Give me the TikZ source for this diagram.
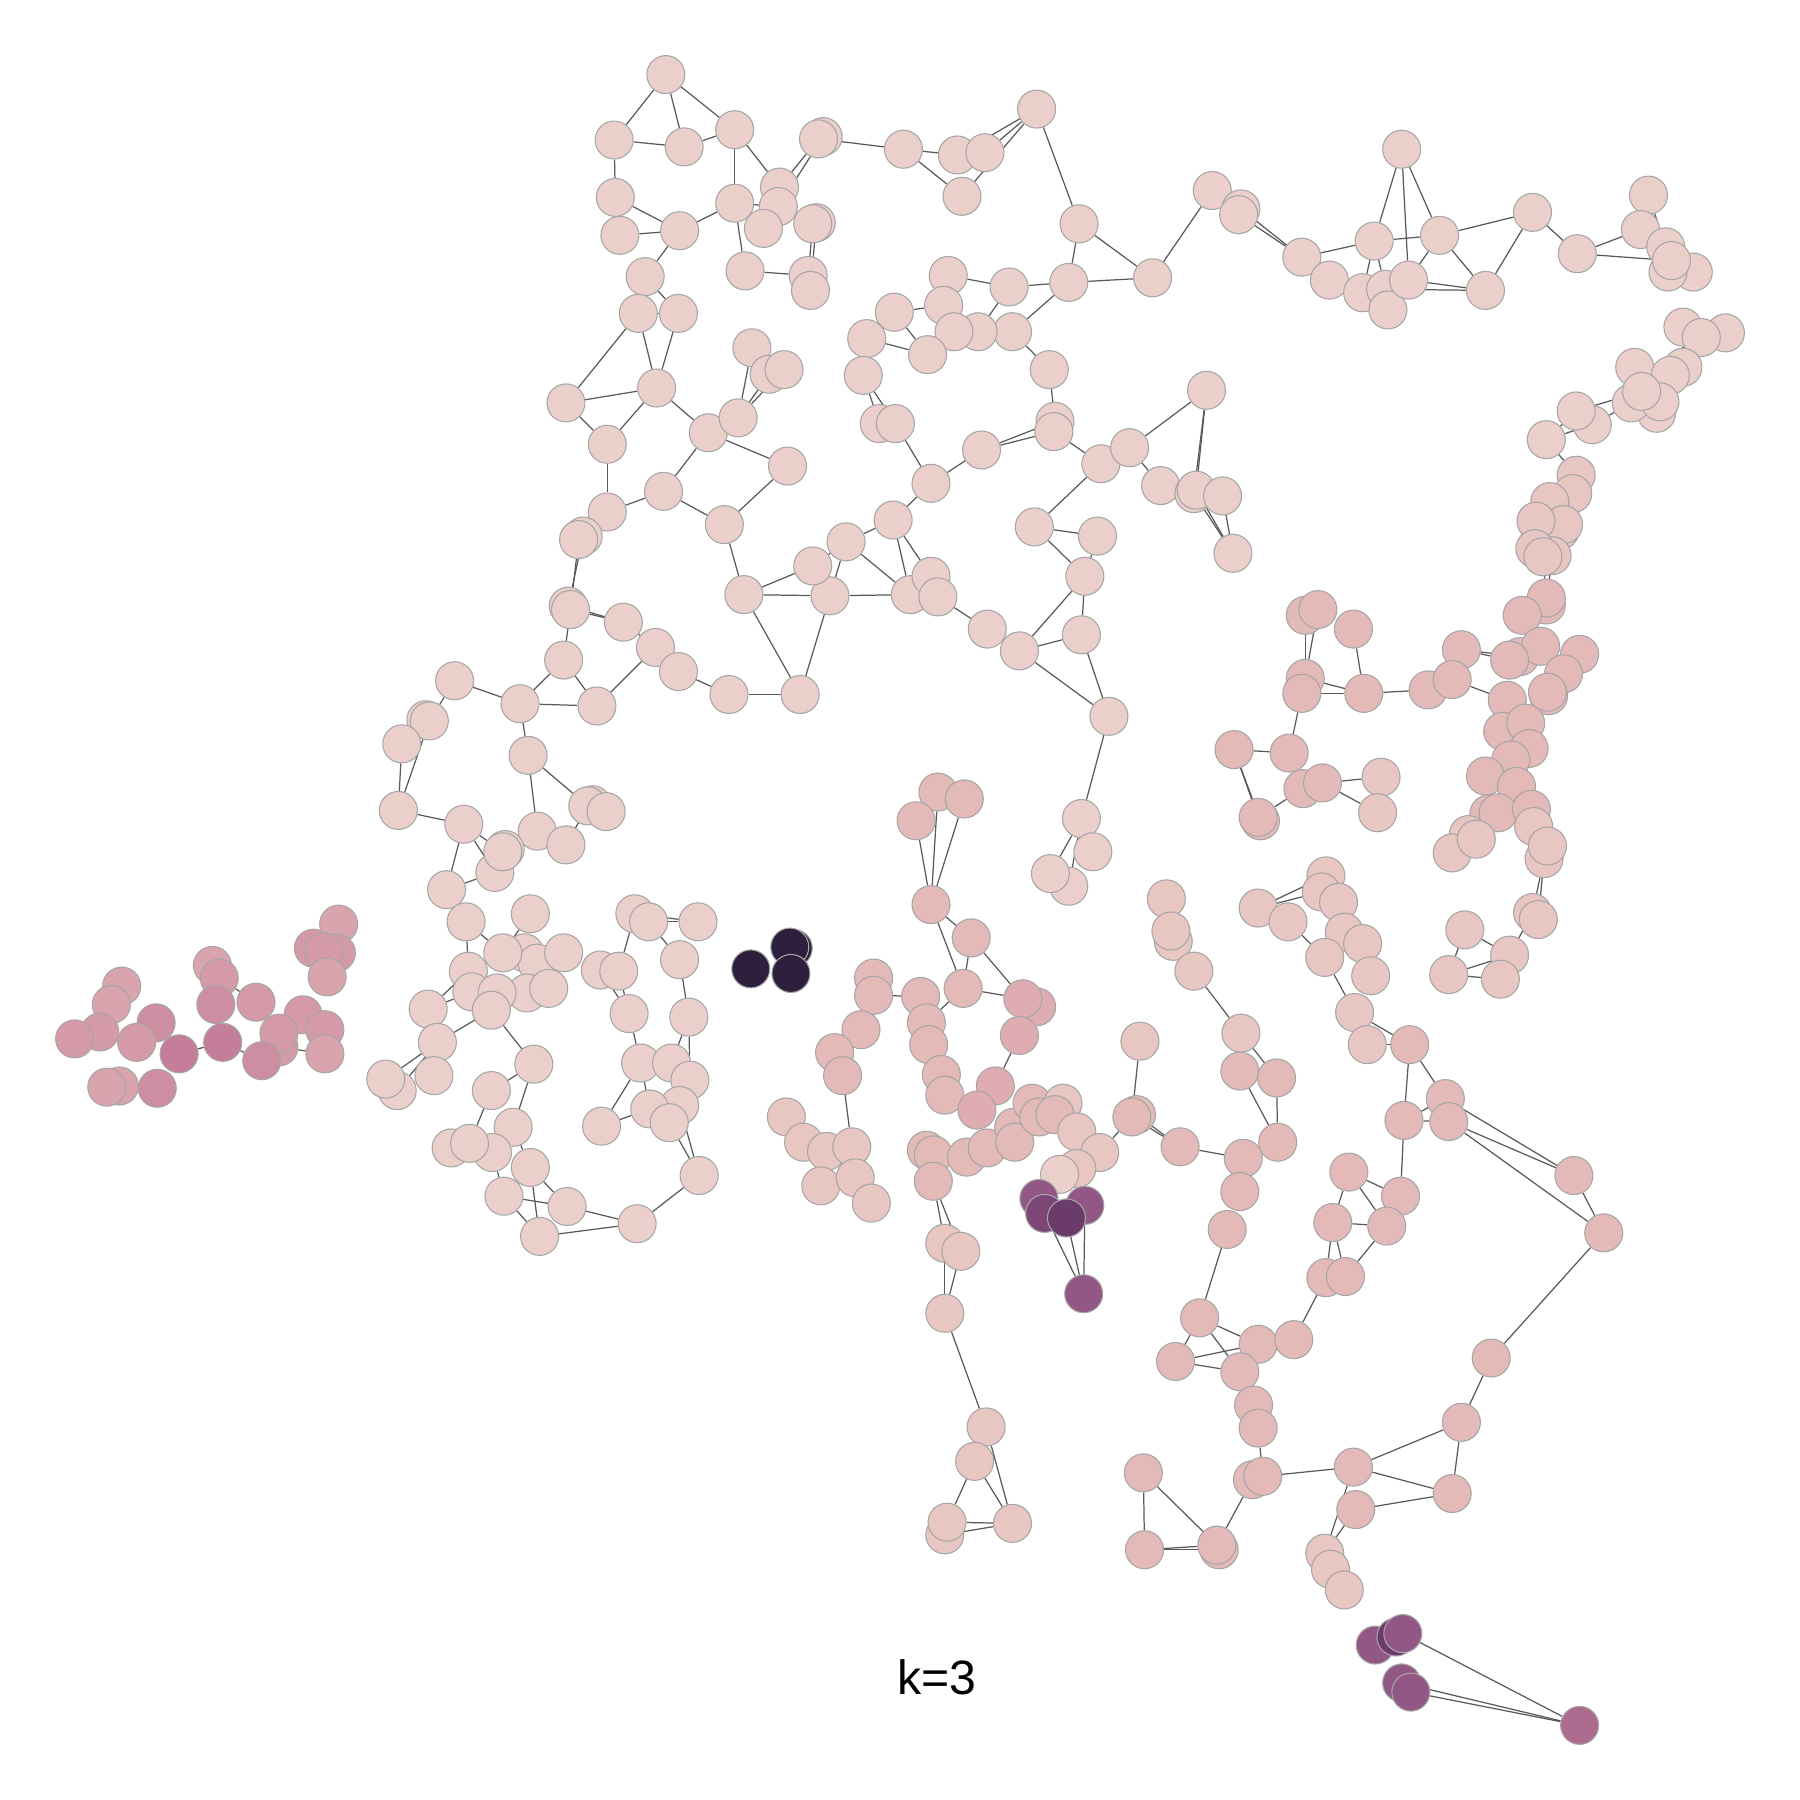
\documentclass[tikz,border=0pt]{standalone}
\usepackage{fontspec}
\setmainfont{Liberation Sans}
\pgfdeclarelayer{bg}
\pgfsetlayers{bg,main}
\definecolor{colA}{HTML}{EBCFCA}
\definecolor{colB}{HTML}{E8C6C2}
\definecolor{colC}{HTML}{E4BAB9}
\definecolor{colD}{HTML}{DFADB1}
\definecolor{colK}{HTML}{D49AA8}
\definecolor{colKl}{HTML}{D9A4AD}
\definecolor{colK2}{HTML}{CE8EA1}
\definecolor{colK3}{HTML}{C47E99}
\definecolor{colP1}{HTML}{925785}
\definecolor{colPm}{HTML}{7D4677}
\definecolor{colP2}{HTML}{6B3B6B}
\definecolor{colP3}{HTML}{AD6B90}
\definecolor{colDk}{HTML}{2E1F3D}
\newcommand\Nd[4]{\node[nd,fill=#4] (#1) at (#2,#3) {};}
\newcommand\Ed[2]{\draw[ed] (#1) -- (#2);}
\begin{document}
\begin{tikzpicture}[x=0.01148cm,y=-0.01148cm,
  nd/.style={circle,draw=black!35,line width=0.3pt,minimum size=0.38cm,inner sep=0pt},
  ed/.style={draw=black!65,line width=0.35pt}]
\useasboundingbox (0,0) rectangle (1568,1568);
% ---------- T group
\Nd{t1}{580}{65}{colA}\Nd{t2}{535}{122}{colA}\Nd{t3}{596}{128}{colA}\Nd{t4}{640}{113}{colA}
\Nd{t5}{536}{172}{colA}\Nd{t6}{540}{205}{colA}\Nd{t7}{592}{201}{colA}\Nd{t8}{640}{177}{colA}
\Nd{t9}{679}{163}{colA}\Nd{t10}{678}{180}{colA}\Nd{t11}{665}{199}{colA}\Nd{t12}{649}{236}{colA}
\Nd{t13b}{717}{119}{colA}\Nd{t13}{713}{121}{colA}\Nd{t14b}{711}{194}{colA}\Nd{t14}{708}{195}{colA}
\Nd{t15}{704}{240}{colA}\Nd{t16}{706}{253}{colA}\Nd{t17}{562}{241}{colA}\Nd{t18}{556}{273}{colA}\Nd{t19}{591}{273}{colA}
% ---------- U group
\Nd{u1}{787}{130}{colA}\Nd{u2}{834}{135}{colA}\Nd{u3}{858}{133}{colA}\Nd{u4}{838}{171}{colA}
\Nd{u5}{903}{95}{colA}\Nd{u6}{940}{195}{colA}\Nd{u7}{931}{246}{colA}\Nd{u8}{1004}{242}{colA}
\Nd{u9}{879}{250}{colA}\Nd{u10}{826}{240}{colA}\Nd{u11}{822}{266}{colA}\Nd{u12}{882}{289}{colA}
\Nd{u13}{852}{289}{colA}\Nd{u14}{831}{289}{colA}\Nd{u15}{779}{272}{colA}\Nd{u16}{808}{309}{colA}
\Nd{u17}{755}{295}{colA}\Nd{u18}{752}{327}{colA}\Nd{u19}{766}{369}{colA}\Nd{u20}{780}{369}{colA}
\Nd{u21}{811}{421}{colA}\Nd{u22}{855}{392}{colA}\Nd{u24}{919}{367}{colA}\Nd{u23}{918}{376}{colA}
\Nd{u25}{914}{322}{colA}\Nd{u26}{959}{404}{colA}\Nd{u27}{984}{390}{colA}\Nd{u28}{901}{459}{colA}
\Nd{u29}{956}{467}{colA}\Nd{u30}{945}{502}{colA}\Nd{u31}{942}{553}{colA}\Nd{u32}{888}{567}{colA}
% ---------- W group
\Nd{w1}{1051}{340}{colA}\Nd{w2}{1011}{423}{colA}\Nd{w3b}{1040}{430}{colA}\Nd{w3}{1042}{427}{colA}
\Nd{w4}{1065}{432}{colA}\Nd{w5}{1074}{482}{colA}
% ---------- V group
\Nd{v1}{1056}{166}{colA}\Nd{v2b}{1081}{182}{colA}\Nd{v2}{1079}{187}{colA}\Nd{v3}{1134}{224}{colA}
\Nd{v4}{1158}{244}{colA}\Nd{v5}{1197}{210}{colA}\Nd{v6}{1187}{255}{colA}\Nd{v8}{1207}{252}{colA}
\Nd{v7}{1209}{270}{colA}\Nd{v9}{1227}{244}{colA}\Nd{v10}{1221}{130}{colA}\Nd{v11}{1254}{205}{colA}
\Nd{v12}{1294}{253}{colA}\Nd{v13}{1335}{185}{colA}\Nd{v14}{1374}{221}{colA}\Nd{v15}{1436}{170}{colA}
\Nd{v16}{1429}{200}{colA}\Nd{v17}{1451}{215}{colA}\Nd{v19}{1475}{237}{colA}\Nd{v18}{1453}{237}{colA}\Nd{v20}{1456}{227}{colA}
% ---------- R column
\Nd{r3}{1503}{290}{colA}\Nd{r1}{1466}{285}{colA}\Nd{r2}{1482}{294}{colA}\Nd{r4}{1466}{320}{colA}
\Nd{r5}{1424}{320}{colA}\Nd{r6}{1455}{327}{colA}\Nd{r10}{1443}{360}{colA}\Nd{r8}{1421}{351}{colA}
\Nd{r9}{1446}{350}{colA}\Nd{r7}{1430}{341}{colA}\Nd{r12}{1387}{370}{colA}\Nd{r11}{1373}{358}{colA}
\Nd{r13}{1347}{383}{colA}\Nd{r14}{1373}{414}{colB}\Nd{r15}{1370}{430}{colB}\Nd{r16}{1350}{437}{colB}
\Nd{r19}{1359}{462}{colB}\Nd{r18}{1362}{457}{colB}\Nd{r17}{1338}{454}{colB}\Nd{r22}{1352}{484}{colB}
\Nd{r20}{1337}{478}{colB}\Nd{r21}{1344}{485}{colB}\Nd{r24}{1347}{527}{colC}\Nd{r23}{1347}{521}{colC}
\Nd{r25}{1326}{536}{colC}\Nd{r27}{1376}{570}{colC}\Nd{r29}{1324}{572}{colC}\Nd{r26}{1342}{563}{colC}
\Nd{r28}{1315}{575}{colC}\Nd{r30}{1362}{587}{colC}\Nd{r32}{1349}{606}{colC}\Nd{r31}{1348}{603}{colC}
\Nd{r55}{1273}{566}{colC}\Nd{r57}{1244}{601}{colC}\Nd{r56}{1265}{592}{colC}
\Nd{r33}{1313}{610}{colC}\Nd{r34}{1309}{637}{colC}\Nd{r35}{1329}{630}{colC}\Nd{r36}{1332}{652}{colC}
\Nd{r37}{1316}{662}{colC}\Nd{r38}{1294}{676}{colC}\Nd{r39}{1321}{685}{colC}\Nd{r42}{1297}{709}{colC}
\Nd{r40}{1305}{708}{colC}\Nd{r41}{1334}{705}{colC}\Nd{r43}{1279}{727}{colB}\Nd{r45}{1265}{743}{colB}
\Nd{r44}{1286}{731}{colB}\Nd{r46}{1336}{720}{colB}\Nd{r48}{1345}{748}{colB}\Nd{r47}{1348}{737}{colB}
\Nd{r49}{1335}{795}{colB}\Nd{r50}{1340}{801}{colB}\Nd{r51}{1276}{810}{colB}\Nd{r52}{1315}{832}{colB}
\Nd{r53}{1262}{849}{colB}\Nd{r54}{1307}{853}{colB}
% ---------- G group
\Nd{g8}{1137}{536}{colC}\Nd{g9}{1148}{531}{colC}\Nd{g10}{1179}{548}{colC}\Nd{g11}{1137}{591}{colC}
\Nd{g12}{1134}{604}{colC}\Nd{g13}{1188}{604}{colC}\Nd{g1}{1075}{653}{colC}\Nd{g2}{1123}{656}{colC}
\Nd{g3}{1135}{687}{colC}\Nd{g4}{1152}{682}{colC}\Nd{g5}{1203}{677}{colB}\Nd{g6}{1200}{708}{colB}
\Nd{g7b}{1098}{715}{colC}\Nd{g7}{1096}{712}{colC}
% ---------- F group
\Nd{f3}{1155}{763}{colB}\Nd{f4}{1151}{777}{colB}\Nd{f5}{1166}{786}{colB}\Nd{f1}{1096}{791}{colB}
\Nd{f2}{1122}{803}{colB}\Nd{f6}{1171}{812}{colB}\Nd{f7}{1187}{822}{colB}\Nd{f8}{1154}{834}{colB}\Nd{f9}{1194}{850}{colB}
% ---------- E group
\Nd{e1}{1016}{783}{colB}\Nd{e3}{1022}{820}{colB}\Nd{e2}{1020}{811}{colB}\Nd{e4}{1040}{846}{colB}
\Nd{e5}{1081}{900}{colB}\Nd{e6}{1080}{933}{colC}\Nd{e7}{1112}{939}{colC}\Nd{e8}{1113}{995}{colC}
\Nd{e9}{1083}{1009}{colC}\Nd{e10}{1080}{1038}{colC}\Nd{e11}{1069}{1071}{colC}\Nd{e12}{1045}{1148}{colC}
\Nd{e13}{1024}{1186}{colC}\Nd{e14}{1096}{1171}{colC}\Nd{e15}{1127}{1167}{colC}\Nd{e16}{1080}{1195}{colC}
\Nd{e17}{1092}{1224}{colC}\Nd{e18}{1096}{1244}{colC}\Nd{e20}{1091}{1289}{colC}\Nd{e19}{1100}{1286}{colC}
\Nd{e21}{1179}{1278}{colC}\Nd{e22}{1181}{1315}{colC}\Nd{e23}{1265}{1301}{colC}\Nd{e24}{1273}{1239}{colC}
\Nd{e25}{1299}{1183}{colC}\Nd{e26}{1397}{1074}{colC}\Nd{e27}{1371}{1024}{colC}\Nd{e29}{1259}{957}{colC}
\Nd{e28}{1262}{977}{colC}\Nd{e30}{1223}{976}{colC}\Nd{e33}{1180}{882}{colB}\Nd{e32}{1191}{910}{colB}
\Nd{e31}{1228}{910}{colC}\Nd{e34}{1220}{1042}{colC}\Nd{e35}{1175}{1021}{colC}\Nd{e36}{1161}{1065}{colC}
\Nd{e37}{1208}{1068}{colC}\Nd{e38}{1155}{1113}{colC}\Nd{e39}{1172}{1112}{colC}
\Nd{e40}{1154}{1353}{colB}\Nd{e41}{1159}{1367}{colB}\Nd{e42}{1171}{1385}{colB}
\Nd{e43}{996}{1283}{colC}\Nd{e44}{997}{1350}{colC}\Nd{e46}{1062}{1350}{colC}\Nd{e45}{1060}{1346}{colC}
% ---------- B purple group
\Nd{b1}{1198}{1433}{colP1}\Nd{b2}{1216}{1426}{colP2}\Nd{b3}{1222}{1423}{colP1}
\Nd{b4}{1221}{1466}{colP1}\Nd{b5}{1229}{1474}{colP1}\Nd{b6}{1376}{1503}{colP3}
% ---------- S group
\Nd{s1}{966}{624}{colA}\Nd{s2}{942}{713}{colA}\Nd{s3}{952}{742}{colA}\Nd{s5}{931}{772}{colA}\Nd{s4}{915}{761}{colA}
% ---------- M group
\Nd{m1}{493}{351}{colA}\Nd{m2}{572}{338}{colA}\Nd{m3}{529}{387}{colA}\Nd{m4}{529}{446}{colA}
\Nd{m5b}{508}{467}{colA}\Nd{m5}{504}{470}{colA}\Nd{m6}{578}{428}{colA}\Nd{m7}{617}{377}{colA}
\Nd{m8}{643}{364}{colA}\Nd{m9}{655}{303}{colA}\Nd{m10}{670}{326}{colA}\Nd{m11}{683}{322}{colA}
\Nd{m12}{686}{406}{colA}\Nd{m13}{631}{457}{colA}\Nd{m14}{648}{518}{colA}\Nd{m15}{723}{519}{colA}
\Nd{m16}{708}{493}{colA}\Nd{m17}{737}{472}{colA}\Nd{m18}{778}{453}{colA}\Nd{m19}{793}{518}{colA}
\Nd{m20}{811}{502}{colA}\Nd{m21}{817}{520}{colA}\Nd{m22}{860}{548}{colA}
% ---------- L group
\Nd{L1b}{495}{528}{colA}\Nd{L1}{497}{531}{colA}\Nd{L2}{543}{542}{colA}\Nd{L3}{571}{564}{colA}
\Nd{L4}{591}{585}{colA}\Nd{L5}{635}{605}{colA}\Nd{L6}{697}{605}{colA}\Nd{L7}{491}{575}{colA}
\Nd{L8}{453}{613}{colA}\Nd{L9}{520}{615}{colA}\Nd{L10}{396}{593}{colA}\Nd{L11b}{371}{627}{colA}
\Nd{L11}{374}{628}{colA}\Nd{L12}{350}{648}{colA}\Nd{L13}{347}{706}{colA}\Nd{L14}{404}{718}{colA}
\Nd{L15}{460}{658}{colA}\Nd{L16}{468}{724}{colA}\Nd{L17b}{516}{701}{colA}\Nd{L17}{512}{702}{colA}
\Nd{L18}{528}{707}{colA}\Nd{L19}{493}{736}{colA}\Nd{L21}{431}{760}{colA}\Nd{L20b}{440}{740}{colA}
\Nd{L20}{438}{742}{colA}\Nd{L22}{389}{775}{colA}\Nd{L23}{406}{803}{colA}\Nd{L24}{462}{796}{colA}
\Nd{L25}{553}{796}{colA}\Nd{L26}{565}{803}{colA}\Nd{L27}{608}{803}{colA}\Nd{L28}{592}{836}{colA}
\Nd{L29}{408}{846}{colA}\Nd{L31}{457}{830}{colA}\Nd{L33}{468}{839}{colA}\Nd{L30}{438}{830}{colA}
\Nd{L32}{491}{830}{colA}\Nd{L36}{411}{864}{colA}\Nd{L37}{459}{865}{colA}\Nd{L34}{433}{865}{colA}
\Nd{L35}{428}{880}{colA}\Nd{L38}{478}{861}{colA}\Nd{L39}{373}{879}{colA}\Nd{L40}{381}{908}{colA}
\Nd{L41}{465}{927}{colA}\Nd{L43}{346}{950}{colA}\Nd{L42}{336}{940}{colA}\Nd{L44}{378}{937}{colA}
\Nd{L45}{428}{950}{colA}\Nd{L46}{447}{982}{colA}\Nd{L47}{393}{1000}{colA}\Nd{L49}{429}{1004}{colA}
\Nd{L48}{409}{996}{colA}\Nd{L50}{462}{1017}{colA}\Nd{L51}{439}{1042}{colA}\Nd{L52}{494}{1051}{colA}
\Nd{L53}{470}{1077}{colA}\Nd{L54}{555}{1066}{colA}\Nd{L55}{609}{1024}{colA}\Nd{L56}{524}{981}{colA}
\Nd{L57}{558}{926}{colA}\Nd{L58}{585}{926}{colA}\Nd{L59}{601}{941}{colA}\Nd{L62}{592}{963}{colA}
\Nd{L60}{566}{966}{colA}\Nd{L61}{583}{978}{colA}\Nd{L63}{600}{886}{colA}\Nd{L64}{548}{883}{colA}
\Nd{L66}{523}{845}{colA}\Nd{L65}{539}{846}{colA}
% ---------- dark group
\Nd{D2b}{691}{826}{colDk}\Nd{D2}{688}{825}{colDk}\Nd{D1}{654}{844}{colDk}\Nd{D3}{689}{848}{colDk}
% ---------- K group (left)
\Nd{k1}{295}{805}{colKl}\Nd{k2}{273}{826}{colK}\Nd{k4}{293}{830}{colK}\Nd{k3}{282}{829}{colK}
\Nd{k5}{285}{851}{colKl}\Nd{k6}{185}{841}{colKl}\Nd{k7}{191}{852}{colK}\Nd{k8}{188}{875}{colK2}
\Nd{k9}{223}{873}{colK}\Nd{k12}{264}{884}{colK}\Nd{k14}{283}{897}{colK}\Nd{k15}{283}{918}{colKl}
\Nd{k16}{243}{912}{colK}\Nd{k13}{243}{900}{colK}\Nd{k17}{228}{924}{colK2}\Nd{k10}{194}{908}{colK3}
\Nd{k18}{106}{859}{colKl}\Nd{k19}{97}{875}{colKl}\Nd{k22}{87}{899}{colK}\Nd{k23}{65}{905}{colK}
\Nd{k20}{136}{891}{colK2}\Nd{k21}{119}{908}{colK}\Nd{k11}{156}{918}{colK3}
\Nd{k25}{104}{946}{colKl}\Nd{k24}{93}{947}{colKl}\Nd{k26}{137}{948}{colK2}
% ---------- C group (center)
\Nd{c1}{817}{690}{colC}\Nd{c2}{840}{696}{colC}\Nd{c3}{798}{715}{colC}\Nd{c4}{811}{788}{colC}
\Nd{c5}{846}{817}{colC}\Nd{c6}{839}{861}{colC}\Nd{c8}{903}{877}{colD}\Nd{c7}{891}{870}{colD}
\Nd{c9}{888}{902}{colD}\Nd{c10}{802}{868}{colC}\Nd{c11}{807}{891}{colC}\Nd{c12}{809}{910}{colC}
\Nd{c13}{761}{852}{colC}\Nd{c14}{761}{867}{colC}\Nd{c15}{750}{897}{colC}\Nd{c16}{727}{917}{colC}
\Nd{c17}{734}{937}{colC}\Nd{c18}{867}{946}{colD}\Nd{c19}{820}{936}{colC}\Nd{c20}{823}{954}{colC}
\Nd{c21}{685}{973}{colB}\Nd{c22}{700}{995}{colB}\Nd{c24}{720}{1003}{colB}\Nd{c23}{742}{999}{colB}
\Nd{c25}{715}{1033}{colB}\Nd{c26}{745}{1026}{colB}\Nd{c27}{759}{1048}{colB}\Nd{c28}{807}{1002}{colC}
\Nd{c29}{813}{1006}{colC}\Nd{c30}{813}{1029}{colC}\Nd{c31}{842}{1008}{colC}\Nd{c32}{860}{1000}{colC}
\Nd{c33}{851}{967}{colD}\Nd{c34}{883}{982}{colC}\Nd{c35}{884}{995}{colC}\Nd{c36}{899}{961}{colC}
\Nd{c38}{905}{973}{colC}\Nd{c39}{926}{961}{colB}\Nd{c37}{919}{971}{colC}\Nd{c40}{938}{986}{colB}
\Nd{c41}{958}{1004}{colB}\Nd{c43}{938}{1018}{colB}\Nd{c42}{923}{1023}{colA}
\Nd{p1}{905}{1044}{colP1}\Nd{p2}{945}{1050}{colP1}\Nd{p3}{910}{1057}{colPm}\Nd{p4}{929}{1061}{colP2}
\Nd{p5}{944}{1127}{colP1}
\Nd{c44}{823}{1083}{colB}\Nd{c45}{837}{1090}{colB}\Nd{c46}{823}{1144}{colB}\Nd{c47}{859}{1243}{colB}
\Nd{c48}{849}{1273}{colB}\Nd{c50}{823}{1337}{colB}\Nd{c49}{825}{1326}{colB}\Nd{c51}{882}{1327}{colB}
\Nd{c52}{993}{907}{colB}\Nd{c53b}{990}{971}{colC}\Nd{c53}{986}{973}{colC}\Nd{c54}{1028}{999}{colC}
% ---------- label
\node[font=\fontsize{13.7}{16}\selectfont] (lab) at (816,1461) {k=3};
% ---------- edges
\begin{pgfonlayer}{bg}
\Ed{t1}{t2}\Ed{t1}{t3}\Ed{t1}{t4}\Ed{t2}{t3}\Ed{t3}{t4}\Ed{t2}{t5}\Ed{t4}{t8}\Ed{t4}{t9}
\Ed{t5}{t7}\Ed{t6}{t7}\Ed{t7}{t8}\Ed{t8}{t10}\Ed{t8}{t12}\Ed{t12}{t15}\Ed{t13}{t9}\Ed{t13b}{t10}
\Ed{t14}{t15}\Ed{t14b}{t16}\Ed{t7}{t17}\Ed{t17}{t18}\Ed{t17}{t19}\Ed{t18}{t19}\Ed{t18}{m1}
\Ed{t18}{m2}\Ed{t19}{m2}\Ed{t13}{u1}
\Ed{u1}{u2}\Ed{u2}{u3}\Ed{u1}{u4}\Ed{u5}{u3}\Ed{u5}{u4}\Ed{u5}{u2}\Ed{u5}{u6}\Ed{u6}{u7}
\Ed{u6}{u8}\Ed{u7}{u8}\Ed{u7}{u9}\Ed{u9}{u10}\Ed{u7}{u12}\Ed{u9}{u13}\Ed{u11}{u15}\Ed{u15}{u16}
\Ed{u17}{u16}\Ed{u18}{u19}\Ed{u18}{u20}\Ed{u20}{u21}\Ed{u21}{u22}\Ed{u22}{u23}\Ed{u22}{u24}
\Ed{u25}{u24}\Ed{u12}{u25}\Ed{u23}{u26}\Ed{u26}{u27}\Ed{u26}{u28}\Ed{u28}{u29}\Ed{u28}{u30}
\Ed{u29}{u30}\Ed{u30}{u31}\Ed{u30}{u32}\Ed{u31}{u32}\Ed{u8}{v1}\Ed{u27}{w1}\Ed{u27}{w2}
\Ed{w1}{w3}\Ed{w1}{w3b}\Ed{w3}{w5}\Ed{w3b}{w5}\Ed{w4}{w5}\Ed{w2}{w3}\Ed{u21}{m18}
\Ed{v1}{v2}\Ed{v2}{v3}\Ed{v2b}{v3}\Ed{v3}{v4}\Ed{v3}{v5}\Ed{v10}{v5}\Ed{v10}{v9}\Ed{v10}{v11}
\Ed{v5}{v11}\Ed{v11}{v13}\Ed{v11}{v12}\Ed{v13}{v12}\Ed{v9}{v12}\Ed{v8}{v12}\Ed{v5}{v6}\Ed{v5}{v8}
\Ed{v11}{v9}\Ed{v13}{v14}\Ed{v14}{v16}\Ed{v14}{v20}\Ed{v15}{v16}\Ed{v15}{v17}\Ed{v16}{v17}
\Ed{r7}{r11}\Ed{r8}{r12}\Ed{r11}{r13}\Ed{r13}{r14}\Ed{r13}{r12}\Ed{r14}{r15}\Ed{r15}{r16}
\Ed{r16}{r17}\Ed{r17}{r18}\Ed{r17}{r20}\Ed{r20}{r21}\Ed{r21}{r23}\Ed{r22}{r24}\Ed{r23}{r25}
\Ed{r25}{r26}\Ed{r26}{r27}\Ed{r26}{r28}\Ed{r28}{r55}\Ed{r55}{r29}\Ed{r56}{r33}\Ed{r57}{g13}
\Ed{r57}{r56}\Ed{r33}{r34}\Ed{r34}{r35}\Ed{r35}{r36}\Ed{r36}{r37}\Ed{r37}{r38}\Ed{r38}{r40}
\Ed{r39}{r41}\Ed{r40}{r43}\Ed{r43}{r45}\Ed{r41}{r46}\Ed{r46}{r47}\Ed{r47}{r48}\Ed{r48}{r49}
\Ed{r48}{r50}\Ed{r49}{r52}\Ed{r51}{r52}\Ed{r51}{r53}\Ed{r53}{r52}\Ed{r53}{r54}\Ed{r1}{r4}
\Ed{r2}{r6}\Ed{r4}{r7}\Ed{r5}{r8}\Ed{r6}{r9}\Ed{r9}{r10}
\Ed{g8}{g11}\Ed{g9}{g11}\Ed{g10}{g13}\Ed{g11}{g13}\Ed{g12}{g13}\Ed{g12}{g2}\Ed{g1}{g2}
\Ed{g1}{g7}\Ed{g1}{g7b}\Ed{g7}{g3}\Ed{g4}{g5}\Ed{g4}{g6}\Ed{g2}{g3}
\Ed{f1}{f4}\Ed{f1}{f3}\Ed{f2}{f8}\Ed{f8}{e33}\Ed{e33}{e31}\Ed{e32}{e31}\Ed{e31}{e30}\Ed{e31}{e29}
\Ed{e30}{e29}\Ed{e30}{e28}\Ed{e30}{e34}\Ed{e35}{e34}\Ed{e35}{e36}\Ed{e35}{e37}\Ed{e36}{e37}
\Ed{e36}{e38}\Ed{e36}{e39}\Ed{e37}{e39}\Ed{e27}{e29}\Ed{e27}{e28}\Ed{e26}{e28}\Ed{e26}{e27}
\Ed{e26}{e25}\Ed{e25}{e24}\Ed{e24}{e23}\Ed{e24}{e21}\Ed{e21}{e23}\Ed{e22}{e23}\Ed{e21}{e19}
\Ed{e22}{e40}\Ed{e21}{e40}\Ed{e40}{e41}\Ed{e41}{e42}\Ed{e4}{e5}\Ed{e5}{e7}\Ed{e6}{e8}\Ed{e7}{e8}
\Ed{e9}{e8}\Ed{c54}{e9}\Ed{c54}{c53}\Ed{c52}{c53}\Ed{c53b}{c54}\Ed{e11}{e12}\Ed{e12}{e14}
\Ed{e12}{e13}\Ed{e13}{e14}\Ed{e13}{e16}\Ed{e12}{e16}\Ed{e15}{e38}\Ed{e18}{e19}\Ed{e17}{e18}
\Ed{e43}{e44}\Ed{e43}{e45}\Ed{e44}{e45}\Ed{e44}{e46}\Ed{e45}{e20}\Ed{e1}{e2}\Ed{e3}{e4}
\Ed{c1}{c4}\Ed{c3}{c4}\Ed{c2}{c4}\Ed{c4}{c5}\Ed{c4}{c6}\Ed{c5}{c6}\Ed{c5}{c7}\Ed{c6}{c7}
\Ed{c6}{c11}\Ed{c10}{c14}\Ed{c9}{c18}\Ed{c17}{c23}\Ed{c30}{c44}\Ed{c30}{c45}\Ed{c44}{c46}
\Ed{c45}{c46}\Ed{c46}{c47}\Ed{c47}{c48}\Ed{c48}{c49}\Ed{c48}{c51}\Ed{c47}{c51}\Ed{c49}{c51}
\Ed{c50}{c51}\Ed{p4}{p5}\Ed{p3}{p5}\Ed{p2}{p5}\Ed{c53}{c41}
\Ed{u31}{s1}\Ed{u32}{s1}\Ed{s1}{s2}\Ed{s2}{s4}\Ed{s2}{s5}\Ed{s2}{s3}
\Ed{m1}{m2}\Ed{m1}{m3}\Ed{m2}{m3}\Ed{m2}{m7}\Ed{m3}{m4}\Ed{m4}{m6}\Ed{m6}{m7}\Ed{m6}{m13}
\Ed{m13}{m12}\Ed{m7}{m12}\Ed{m8}{m9}\Ed{m8}{m10}\Ed{m8}{m11}\Ed{m7}{m8}\Ed{m13}{m14}
\Ed{m14}{m15}\Ed{m14}{m16}\Ed{m16}{m17}\Ed{m15}{m17}\Ed{m17}{m18}\Ed{m17}{m19}\Ed{m15}{m19}
\Ed{m18}{m20}\Ed{m18}{m19}\Ed{m21}{m22}\Ed{m4}{m5}\Ed{m5}{L1}\Ed{m5b}{L1b}\Ed{m14}{L6}\Ed{m15}{L6}
\Ed{L1}{L2}\Ed{L1b}{L2}\Ed{L1}{L7}\Ed{L7}{L8}\Ed{L7}{L9}\Ed{L8}{L9}\Ed{L3}{L9}\Ed{L4}{L5}
\Ed{L5}{L6}\Ed{L10}{L8}\Ed{L10}{L11}\Ed{L12}{L13}\Ed{L11}{L13}\Ed{L13}{L14}\Ed{L8}{L15}
\Ed{L15}{L16}\Ed{L15}{L17}\Ed{L17}{L19}\Ed{L14}{L20}\Ed{L14}{L21}\Ed{L14}{L22}\Ed{L22}{L21}
\Ed{L23}{L30}\Ed{L23}{L29}\Ed{L24}{L30}\Ed{L25}{L27}\Ed{L26}{L27}\Ed{L26}{L28}\Ed{L25}{L65}
\Ed{L28}{L63}\Ed{L64}{L57}\Ed{L63}{L58}\Ed{L63}{L59}\Ed{L65}{L64}\Ed{L29}{L39}\Ed{L36}{L39}
\Ed{L35}{L40}\Ed{L35}{L41}\Ed{L40}{L42}\Ed{L40}{L43}\Ed{L41}{L45}\Ed{L41}{L46}\Ed{L45}{L48}
\Ed{L46}{L50}\Ed{L49}{L51}\Ed{L51}{L53}\Ed{L51}{L52}\Ed{L50}{L53}\Ed{L50}{L52}\Ed{L52}{L54}
\Ed{L53}{L54}\Ed{L54}{L55}\Ed{L55}{L61}\Ed{L55}{L62}\Ed{L56}{L57}\Ed{L56}{L60}\Ed{L60}{L57}
\Ed{L58}{L59}\Ed{L66}{L64}\Ed{L2}{L3}
\Ed{k11}{k10}\Ed{k10}{k17}\Ed{k7}{k9}\Ed{k16}{k15}\Ed{k13}{k12}\Ed{k21}{k20}
\Ed{b3}{b6}\Ed{b5}{b6}\Ed{b4}{b6}\Ed{b1}{b2}
\end{pgfonlayer}
\end{tikzpicture}
\end{document}
